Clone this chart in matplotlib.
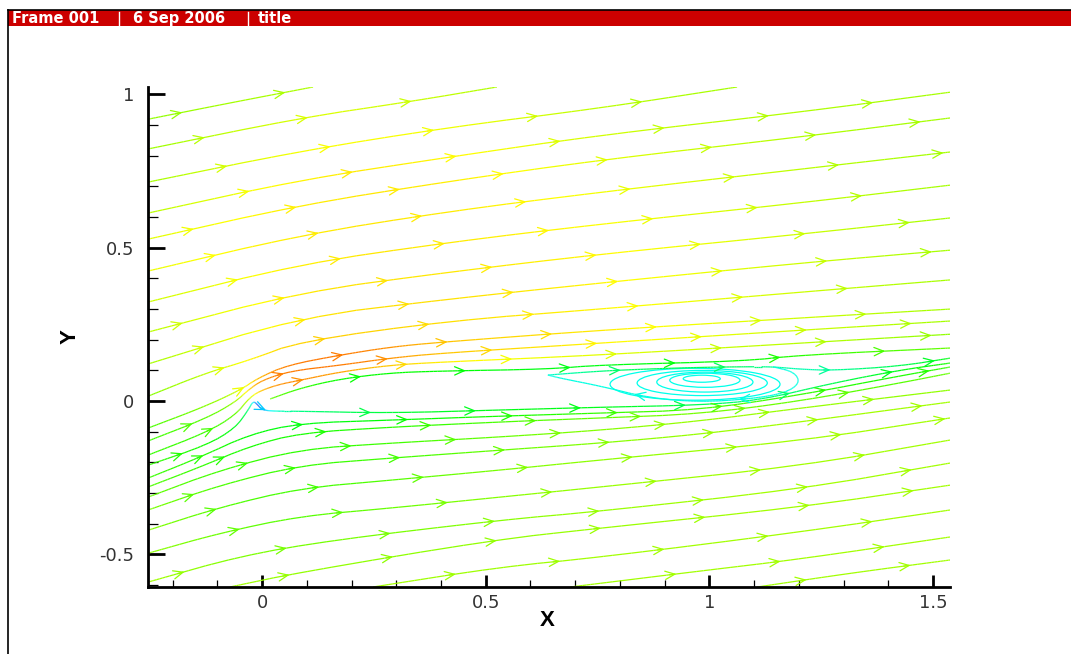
import numpy as np
import matplotlib
matplotlib.use("Agg")
import matplotlib.pyplot as plt
from matplotlib.collections import LineCollection
from matplotlib.colors import LinearSegmentedColormap
from matplotlib.patches import Ellipse, Rectangle
from matplotlib.lines import Line2D
from matplotlib.ticker import MultipleLocator

# ---- streamlines above the body (x, y in plot units, lv = colour level 0..1)
upper_x = [
    [-0.255, -0.072, 0.114],
    [-0.255, 0.085, 0.338, 0.525],
    [-0.255, 0.085, 0.42, 0.756, 1.062],
    [-0.255, 0.085, 0.42, 0.756, 1.203, 1.538],
    [-0.255, 0.085, 0.42, 0.756, 1.203, 1.538],
    [-0.255, 0.085, 0.42, 0.756, 1.203, 1.538],
    [-0.255, 0.085, 0.42, 0.756, 1.203, 1.538],
    [-0.255, 0.085, 0.42, 0.756, 1.203, 1.538],
    [-0.255, 0.085, 0.42, 0.756, 1.203, 1.538],
    [-0.255, -0.127, -0.027, 0.085, 0.42, 0.756, 1.203, 1.538],
    [-0.255, -0.132, -0.049, -0.009, 0.056, 0.174, 0.286, 0.398, 0.756, 1.203, 1.538],
    [-0.255, -0.123, -0.060, -0.031, 0.0, 0.063, 0.174, 0.286, 0.398, 0.756, 1.203, 1.538],
    [-0.255, -0.123, -0.060, -0.027, 0.0, 0.040, 0.085, 0.174, 0.286, 0.398, 0.756, 1.203, 1.538],
    [0.018, 0.085, 0.174, 0.286, 0.398, 0.639, 0.756, 1.075, 1.203, 1.538],
]
upper_y = [
    [0.919, 0.972, 1.024],
    [0.822, 0.923, 0.978, 1.024],
    [0.714, 0.815, 0.893, 0.955, 1.024],
    [0.613, 0.721, 0.796, 0.867, 0.942, 1.007],
    [0.528, 0.639, 0.717, 0.786, 0.861, 0.923],
    [0.424, 0.541, 0.619, 0.681, 0.756, 0.812],
    [0.323, 0.447, 0.518, 0.577, 0.646, 0.704],
    [0.225, 0.355, 0.421, 0.479, 0.544, 0.597],
    [0.121, 0.274, 0.333, 0.385, 0.450, 0.492],
    [0.016, 0.091, 0.134, 0.195, 0.262, 0.300, 0.355, 0.395],
    [-0.088, -0.020, 0.036, 0.075, 0.117, 0.150, 0.176, 0.192, 0.231, 0.271, 0.300],
    [-0.130, -0.055, -0.003, 0.036, 0.068, 0.098, 0.117, 0.140, 0.156, 0.189, 0.231, 0.261],
    [-0.176, -0.101, -0.046, 0.013, 0.036, 0.055, 0.068, 0.095, 0.117, 0.127, 0.150, 0.189, 0.218],
    [0.007, 0.042, 0.072, 0.092, 0.098, 0.104, 0.118, 0.130, 0.150, 0.173],
]
upper_lv = [
    [0.64, 0.66, 0.67],
    [0.65, 0.72, 0.70, 0.67],
    [0.66, 0.75, 0.74, 0.68, 0.66],
    [0.68, 0.77, 0.76, 0.70, 0.67, 0.66],
    [0.72, 0.77, 0.77, 0.72, 0.67, 0.66],
    [0.73, 0.77, 0.77, 0.74, 0.68, 0.66],
    [0.70, 0.77, 0.77, 0.75, 0.69, 0.66],
    [0.68, 0.78, 0.77, 0.76, 0.70, 0.66],
    [0.66, 0.78, 0.78, 0.76, 0.70, 0.66],
    [0.63, 0.68, 0.76, 0.80, 0.78, 0.76, 0.70, 0.66],
    [0.57, 0.62, 0.70, 0.82, 0.88, 0.88, 0.86, 0.80, 0.77, 0.70, 0.66],
    [0.56, 0.58, 0.64, 0.78, 0.86, 0.88, 0.88, 0.86, 0.80, 0.76, 0.70, 0.66],
    [0.55, 0.56, 0.58, 0.70, 0.82, 0.86, 0.86, 0.84, 0.80, 0.76, 0.72, 0.68, 0.64],
    [0.60, 0.55, 0.50, 0.50, 0.50, 0.48, 0.48, 0.50, 0.54, 0.60],
]

# ---- streamlines below the body
lower_x = [
    [-0.255, -0.123, -0.060, -0.031, -0.020, -0.011, 0.0, 0.029, 0.085, 0.286, 0.532, 0.756, 0.979, 1.113, 1.277, 1.426, 1.538],
    [-0.255, -0.139, -0.027, 0.085, 0.286, 0.532, 0.756, 0.979, 1.203, 1.426, 1.538],
    [-0.255, -0.139, -0.027, 0.085, 0.286, 0.532, 0.756, 0.979, 1.203, 1.426, 1.538],
    [-0.255, -0.094, 0.085, 0.286, 0.532, 0.756, 0.979, 1.203, 1.538],
    [-0.255, -0.094, 0.085, 0.286, 0.532, 0.756, 0.979, 1.203, 1.538],
    [-0.255, -0.094, 0.085, 0.286, 0.532, 0.756, 1.203, 1.538],
    [-0.255, -0.094, 0.085, 0.286, 0.532, 0.756, 1.203, 1.538],
    [-0.255, -0.049, 0.159, 0.532, 0.756, 1.203, 1.538],
    [-0.072, 0.085, 0.516, 0.756, 1.203, 1.538],
    [0.248, 0.532, 0.756, 1.203, 1.538],
    [0.689, 0.979, 1.203, 1.538],
    [1.107, 1.315, 1.538],
]
lower_y = [
    [-0.209, -0.143, -0.088, -0.029, 0.000, -0.010, -0.029, -0.033, -0.033, -0.039, -0.029, -0.020, -0.013, 0.003, 0.059, 0.101, 0.124],
    [-0.251, -0.183, -0.108, -0.072, -0.062, -0.049, -0.039, -0.029, 0.020, 0.082, 0.111],
    [-0.280, -0.215, -0.147, -0.104, -0.085, -0.068, -0.055, -0.042, 0.000, 0.059, 0.091],
    [-0.313, -0.225, -0.157, -0.137, -0.117, -0.095, -0.065, -0.023, 0.036],
    [-0.355, -0.274, -0.209, -0.186, -0.160, -0.137, -0.108, -0.068, -0.003],
    [-0.421, -0.346, -0.284, -0.258, -0.225, -0.192, -0.130, -0.055],
    [-0.496, -0.430, -0.375, -0.349, -0.313, -0.280, -0.212, -0.127],
    [-0.590, -0.505, -0.453, -0.388, -0.359, -0.287, -0.202],
    [-0.606, -0.558, -0.453, -0.414, -0.346, -0.274],
    [-0.606, -0.541, -0.509, -0.427, -0.355],
    [-0.606, -0.554, -0.515, -0.443],
    [-0.606, -0.561, -0.518],
]
lower_lv = [
    [0.55, 0.52, 0.48, 0.40, 0.25, 0.05, 0.15, 0.30, 0.38, 0.45, 0.48, 0.48, 0.42, 0.38, 0.42, 0.48, 0.52],
    [0.56, 0.54, 0.50, 0.48, 0.50, 0.52, 0.55, 0.58, 0.55, 0.52, 0.55],
    [0.58, 0.55, 0.52, 0.52, 0.54, 0.57, 0.60, 0.62, 0.60, 0.58, 0.60],
    [0.60, 0.56, 0.54, 0.56, 0.60, 0.63, 0.65, 0.65, 0.64],
    [0.62, 0.57, 0.55, 0.56, 0.60, 0.63, 0.65, 0.66, 0.66],
    [0.63, 0.58, 0.56, 0.58, 0.62, 0.64, 0.66, 0.66],
    [0.64, 0.60, 0.58, 0.60, 0.63, 0.65, 0.66, 0.66],
    [0.66, 0.62, 0.61, 0.63, 0.65, 0.66, 0.66],
    [0.66, 0.64, 0.64, 0.65, 0.66, 0.66],
    [0.66, 0.65, 0.66, 0.66, 0.66],
    [0.66, 0.66, 0.66, 0.66],
    [0.66, 0.66, 0.66],
]

# ---- recirculation bubble behind the body
bubble_x = [
    [0.639, 0.756, 0.867, 0.979, 1.075, 1.142, 1.203, 1.277, 1.426, 1.538],
    [1.142, 1.190, 1.203, 1.169, 1.091, 0.979, 0.867, 0.756, 0.666, 0.639],
]
bubble_y = [
    [0.085, 0.098, 0.105, 0.110, 0.112, 0.112, 0.104, 0.100, 0.114, 0.140],
    [0.112, 0.095, 0.059, 0.026, 0.007, -0.003, 0.010, 0.049, 0.075, 0.085],
]
bubble_lv = [
    [0.30, 0.38, 0.42, 0.42, 0.40, 0.35, 0.32, 0.35, 0.42, 0.48],
    [0.28, 0.28, 0.28, 0.28, 0.28, 0.28, 0.28, 0.28, 0.28, 0.28],
]
vortex_cx = [0.968, 0.984, 0.990, 0.990, 0.983]
vortex_cy = [0.055, 0.059, 0.062, 0.068, 0.073]
vortex_w = [0.380, 0.291, 0.215, 0.157, 0.083]
vortex_h = [0.104, 0.082, 0.065, 0.046, 0.023]

x_ticks = [0, 0.5, 1, 1.5]
x_ticklabels = ["0", "0.5", "1", "1.5"]
y_ticks = [-0.5, 0, 0.5, 1]
y_ticklabels = ["-0.5", "0", "0.5", "1"]

cmap = LinearSegmentedColormap.from_list(
    "tec", [(0.0, "#0000ff"), (0.25, "#00ffff"), (0.5, "#00ff00"),
            (0.75, "#ffff00"), (1.0, "#ff0000")])


def smooth(a, iters=2):
    # corner cutting so the polylines render as smooth curves
    a = np.asarray(a, float)
    for _ in range(iters):
        q = 0.75 * a[:-1] + 0.25 * a[1:]
        r = 0.25 * a[:-1] + 0.75 * a[1:]
        mid = np.empty(2 * len(q))
        mid[0::2], mid[1::2] = q, r
        a = np.concatenate([a[:1], mid, a[-1:]])
    return a


def densify(a, n=4):
    a = np.asarray(a, float)
    parts = [np.linspace(a[i], a[i + 1], n, endpoint=False) for i in range(len(a) - 1)]
    return np.concatenate(parts + [a[-1:]])


def draw_stream(ax, xs, ys, lv, phase, spacing=105.0):
    fx, fy, fl = densify(smooth(xs)), densify(smooth(ys)), densify(smooth(lv))
    pts = np.column_stack([fx, fy])
    segs = np.stack([pts[:-1], pts[1:]], axis=1)
    lc = LineCollection(segs, cmap=cmap, norm=plt.Normalize(0, 1), linewidths=0.9)
    lc.set_array(0.5 * (fl[:-1] + fl[1:]))
    ax.add_collection(lc)

    # arrow heads, evenly spaced in screen distance
    disp = ax.transData.transform(pts)
    cum = np.concatenate([[0], np.cumsum(np.hypot(*np.diff(disp, axis=0).T))])
    s = phase
    while s < cum[-1] - 4:
        hx, hy = np.interp(s, cum, fx), np.interp(s, cum, fy)
        tx, ty = np.interp(s - 7, cum, fx), np.interp(s - 7, cum, fy)
        c = cmap(np.interp(s, cum, fl))
        ax.annotate("", xy=(hx, hy), xytext=(tx, ty),
                    arrowprops=dict(arrowstyle="->,head_length=0.7,head_width=0.3",
                                    color=c, lw=0.9, shrinkA=0, shrinkB=0,
                                    mutation_scale=10))
        s += spacing


W, H = 1071, 654
fig = plt.figure(figsize=(W / 100, H / 100), dpi=100)
ax = fig.add_axes([148 / W, 1 - 587 / H, (950 - 148) / W, (587 - 87) / H])
ax.set_xlim(-0.255, 1.538)
ax.set_ylim(-0.606, 1.024)

k = 0
for xs, ys, lv in zip(upper_x + lower_x + bubble_x,
                      upper_y + lower_y + bubble_y,
                      upper_lv + lower_lv + bubble_lv):
    draw_stream(ax, xs, ys, lv, phase=35 + (k * 23) % 80)
    k += 1

for cx, cy, w, h in zip(vortex_cx, vortex_cy, vortex_w, vortex_h):
    ax.add_patch(Ellipse((cx, cy), w, h, fill=False, edgecolor=cmap(0.27), lw=0.9))

# axes styling (Tecplot-like)
for side in ["top", "right"]:
    ax.spines[side].set_visible(False)
for side in ["left", "bottom"]:
    ax.spines[side].set_linewidth(2.0)
ax.set_xticks(x_ticks)
ax.set_xticklabels(x_ticklabels)
ax.set_yticks(y_ticks)
ax.set_yticklabels(y_ticklabels)
ax.xaxis.set_minor_locator(MultipleLocator(0.1))
ax.yaxis.set_minor_locator(MultipleLocator(0.1))
ax.tick_params(which="both", direction="in", labelsize=13, labelcolor="#333333")
ax.tick_params(axis="y", which="major", length=12, width=2.0, pad=10)
ax.tick_params(axis="y", which="minor", length=7, width=0.9)
ax.tick_params(axis="x", which="major", length=9, width=2.0, pad=5)
ax.tick_params(axis="x", which="minor", length=5, width=0.9)

ax.set_xlabel("X", fontsize=16, fontweight="bold", family="Liberation Sans", va="center")
ax.xaxis.set_label_coords(0.4975, -0.068)
ax.set_ylabel("Y", fontsize=16, fontweight="bold", family="Liberation Sans", va="center")
ax.yaxis.set_label_coords(-0.097, 0.5)

# frame header bar
fig.patches.append(Rectangle((8 / W, 1 - 26 / H), 1 - 8 / W, 16 / H,
                             transform=fig.transFigure, facecolor="#cc0000",
                             edgecolor="none"))
fig.lines.append(Line2D([8 / W, 1], [1 - 10 / H] * 2, transform=fig.transFigure,
                        color="black", lw=1.2))
fig.lines.append(Line2D([8 / W] * 2, [0, 1 - 10 / H], transform=fig.transFigure,
                        color="black", lw=1.2))
for txt, px in [("Frame 001", 12), ("6 Sep 2006", 133), ("title", 258)]:
    fig.text(px / W, 1 - 18.5 / H, txt, color="white", fontsize=10.5,
             fontweight="bold", va="center", ha="left")
for px in [119, 248]:
    fig.lines.append(Line2D([px / W] * 2, [1 - 25 / H, 1 - 12 / H],
                            transform=fig.transFigure, color="white", lw=1.0))

fig.savefig("out.png", dpi=100)
